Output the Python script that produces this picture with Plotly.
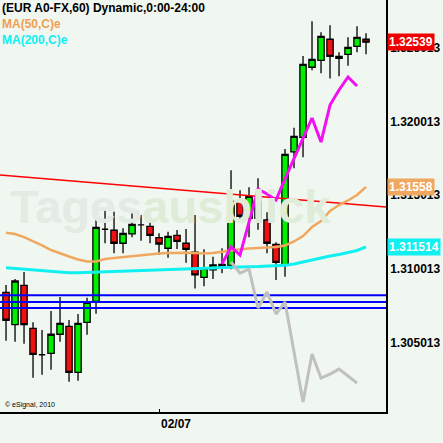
import plotly.graph_objects as go

# hourly EUR/USD candles, index 0..40 (index 17 = 02/07 00:00)
opens = [1.30843, 1.30624, 1.30891, 1.30599, 1.30420, 1.30430, 1.30559, 1.30613, 1.30301, 1.30640,
         1.30782, 1.31271, 1.31264, 1.31176, 1.31239, 1.31300, 1.31291, 1.31214, 1.31142, 1.31230,
         1.31176, 1.31115, 1.30945, 1.30995, 1.31020, 1.31026, 1.31460, 1.31345, 1.31460, 1.31334,
         1.31169, 1.31026, 1.31795, 1.31894, 1.32369, 1.32416, 1.32559, 1.32430, 1.32457, 1.32511,
         1.32559]
highs = [1.30893, 1.30934, 1.30981, 1.30640, 1.30588, 1.30717, 1.30812, 1.30656, 1.30696, 1.30807,
         1.31361, 1.31413, 1.31390, 1.31277, 1.31393, 1.31367, 1.31338, 1.31243, 1.31254, 1.31266,
         1.31273, 1.31367, 1.31135, 1.31085, 1.31142, 1.31671, 1.31535, 1.31555, 1.31616, 1.31386,
         1.31182, 1.31815, 1.31959, 1.32445, 1.32681, 1.32606, 1.32654, 1.32471, 1.32572, 1.32647,
         1.32599]
lows = [1.30515, 1.30508, 1.30495, 1.30264, 1.30285, 1.30319, 1.30508, 1.30237, 1.30244, 1.30556,
        1.30698, 1.31176, 1.31108, 1.31108, 1.31216, 1.31193, 1.31176, 1.31098, 1.31078, 1.31137,
        1.31044, 1.30870, 1.30884, 1.30934, 1.30972, 1.31000, 1.31315, 1.31216, 1.31268, 1.31108,
        1.30927, 1.30949, 1.31684, 1.31759, 1.32349, 1.32328, 1.32292, 1.32308, 1.32380, 1.32471,
        1.32457]
closes = [1.30654, 1.30920, 1.30624, 1.30423, 1.30420, 1.30559, 1.30633, 1.30301, 1.30633, 1.30776,
          1.31284, 1.31271, 1.31176, 1.31243, 1.31304, 1.31300, 1.31230, 1.31171, 1.31223, 1.31189,
          1.31135, 1.30961, 1.31005, 1.31030, 1.31033, 1.31460, 1.31359, 1.31494, 1.31345, 1.31176,
          1.31047, 1.31779, 1.31901, 1.32389, 1.32423, 1.32579, 1.32443, 1.32443, 1.32504, 1.32572,
          1.32539]

ma50 = [1.31247, 1.31239, 1.31218, 1.31191, 1.31161, 1.31130, 1.31106, 1.31086, 1.31066, 1.31052,
        1.31052, 1.31069, 1.31076, 1.31083, 1.31089, 1.31096, 1.31103, 1.31106, 1.31110, 1.31112,
        1.31112, 1.31110, 1.31106, 1.31110, 1.31120, 1.31130, 1.31135, 1.31140, 1.31144, 1.31148,
        1.31151, 1.31161, 1.31188, 1.31225, 1.31286, 1.31327, 1.31395, 1.31435, 1.31466, 1.31503,
        1.31558]
ma200 = [1.31010, 1.31005, 1.30998, 1.30992, 1.30988, 1.30981, 1.30979, 1.30976, 1.30976, 1.30978,
         1.30979, 1.30981, 1.30982, 1.30984, 1.30988, 1.30991, 1.30995, 1.30997, 1.30999, 1.31001,
         1.31003, 1.31005, 1.31006, 1.31008, 1.31012, 1.31015, 1.31017, 1.31017, 1.31018, 1.31020,
         1.31022, 1.31026, 1.31035, 1.31049, 1.31066, 1.31076, 1.31089, 1.31100, 1.31113, 1.31127,
         1.311514]

# projection lines
magenta_x = list(range(24, 40))
magenta_y = [1.31035, 1.31151, 1.31096, 1.31320, 1.31544, 1.31510, 1.31469, 1.31612, 1.31747, 1.31890,
             1.32025, 1.31862, 1.32113, 1.32215, 1.32303, 1.32242]
grey_x = list(range(25, 40))
grey_y = [1.31049, 1.30974, 1.31001, 1.30737, 1.30845, 1.30696, 1.30778, 1.30439, 1.30100, 1.30425,
          1.30262, 1.30289, 1.30323, 1.30276, 1.30228]

# trend line and horizontal support lines
trend_x = [-0.67, 42.22]
trend_y = [1.31639, 1.31422]
support_levels = [1.30823, 1.30778, 1.30737]

tick_vals = [1.305013, 1.310013, 1.315013, 1.320013, 1.325013]
tick_text = ['1.305013', '1.310013', '1.315013', '1.320013', '1.325013']

x = list(range(len(opens)))
x_range = [-0.67, 42.22]

fig = go.Figure()

for level in support_levels:
    fig.add_trace(go.Scatter(x=x_range, y=[level, level], mode='lines',
                             line=dict(color='#0000ff', width=2), hoverinfo='skip'))

fig.add_trace(go.Scatter(x=trend_x, y=trend_y, mode='lines',
                         line=dict(color='#ff0000', width=1.5), hoverinfo='skip'))

fig.add_trace(go.Scatter(x=x, y=ma50, mode='lines', line=dict(color='#f0a860', width=2.5)))
fig.add_trace(go.Scatter(x=x, y=ma200, mode='lines', line=dict(color='#10f0f0', width=3)))
fig.add_trace(go.Scatter(x=grey_x, y=grey_y, mode='lines', line=dict(color='#c0c0c0', width=3)))
fig.add_trace(go.Scatter(x=magenta_x, y=magenta_y, mode='lines', line=dict(color='#f010f0', width=3)))

fig.add_trace(go.Candlestick(
    x=x, open=opens, high=highs, low=lows, close=closes,
    increasing=dict(line=dict(color='black', width=1.3), fillcolor='#00ee00'),
    decreasing=dict(line=dict(color='black', width=1.3), fillcolor='#ee1111'),
))

bg = '#f0f7f0'
fig.update_layout(
    width=443, height=443,
    margin=dict(l=0, r=57, t=0, b=31),
    paper_bgcolor=bg, plot_bgcolor=bg,
    showlegend=False,
    boxgap=0.3, boxgroupgap=0,
    font=dict(family='Liberation Sans, Arial, sans-serif', color='black'),
    xaxis=dict(range=x_range, rangeslider=dict(visible=False), showgrid=False, zeroline=False,
               showline=True, linecolor='black', linewidth=1.5,
               tickvals=[17], ticks='inside', ticklen=3, tickcolor='black', showticklabels=False),
    yaxis=dict(range=[1.30032, 1.32825], side='right', showgrid=False, zeroline=False,
               showline=True, linecolor='black', linewidth=1.5,
               tickvals=tick_vals, ticktext=tick_text, ticks='',
               tickfont=dict(size=12, weight='bold', color='black')),
)

annotations = [
    dict(text='Tages<span style="color:#dfecd8">ausblick</span>', xref='paper', yref='paper',
         x=0.02, y=0.5, xanchor='left', yanchor='middle', showarrow=False,
         font=dict(size=47, weight='bold', color='#e4eae4')),
    dict(text='(EUR A0-FX,60) Dynamic,0:00-24:00', xref='paper', yref='paper', x=0.0, y=0.9806,
         xanchor='left', yanchor='middle', showarrow=False,
         font=dict(size=12, weight='bold', color='black')),
    dict(text='MA(50,C)e', xref='paper', yref='paper', x=0.0, y=0.9417,
         xanchor='left', yanchor='middle', showarrow=False,
         font=dict(size=12, weight='bold', color='#f0a050')),
    dict(text='MA(200,C)e', xref='paper', yref='paper', x=0.0, y=0.9029,
         xanchor='left', yanchor='middle', showarrow=False,
         font=dict(size=12, weight='bold', color='#10f0f0')),
    dict(text='© eSignal, 2010', xref='paper', yref='paper', x=0.008, y=0.017,
         xanchor='left', yanchor='middle', showarrow=False,
         font=dict(size=7, color='black')),
    dict(text='02/07', xref='x', yref='paper', x=17, y=0, yshift=-3,
         xanchor='left', yanchor='top', showarrow=False,
         font=dict(size=12, weight='bold', color='black')),
]

for value, color, label in [(closes[-1], '#ee0000', '1.32539'),
                            (ma50[-1], '#f0a860', '1.31558'),
                            (ma200[-1], '#10f0f0', '1.311514')]:
    annotations.append(dict(text=label, xref='paper', yref='y', x=1.003, y=value,
                            xanchor='left', yanchor='middle', showarrow=False,
                            bgcolor=color, borderpad=1,
                            font=dict(size=12, weight='bold', color='white')))

fig.update_layout(annotations=annotations)

# drop the default page margin so the chart sits at the window's top-left corner
fig.write_html("out.html", config={'displayModeBar': False},
               post_script="document.body.style.margin='0';")
